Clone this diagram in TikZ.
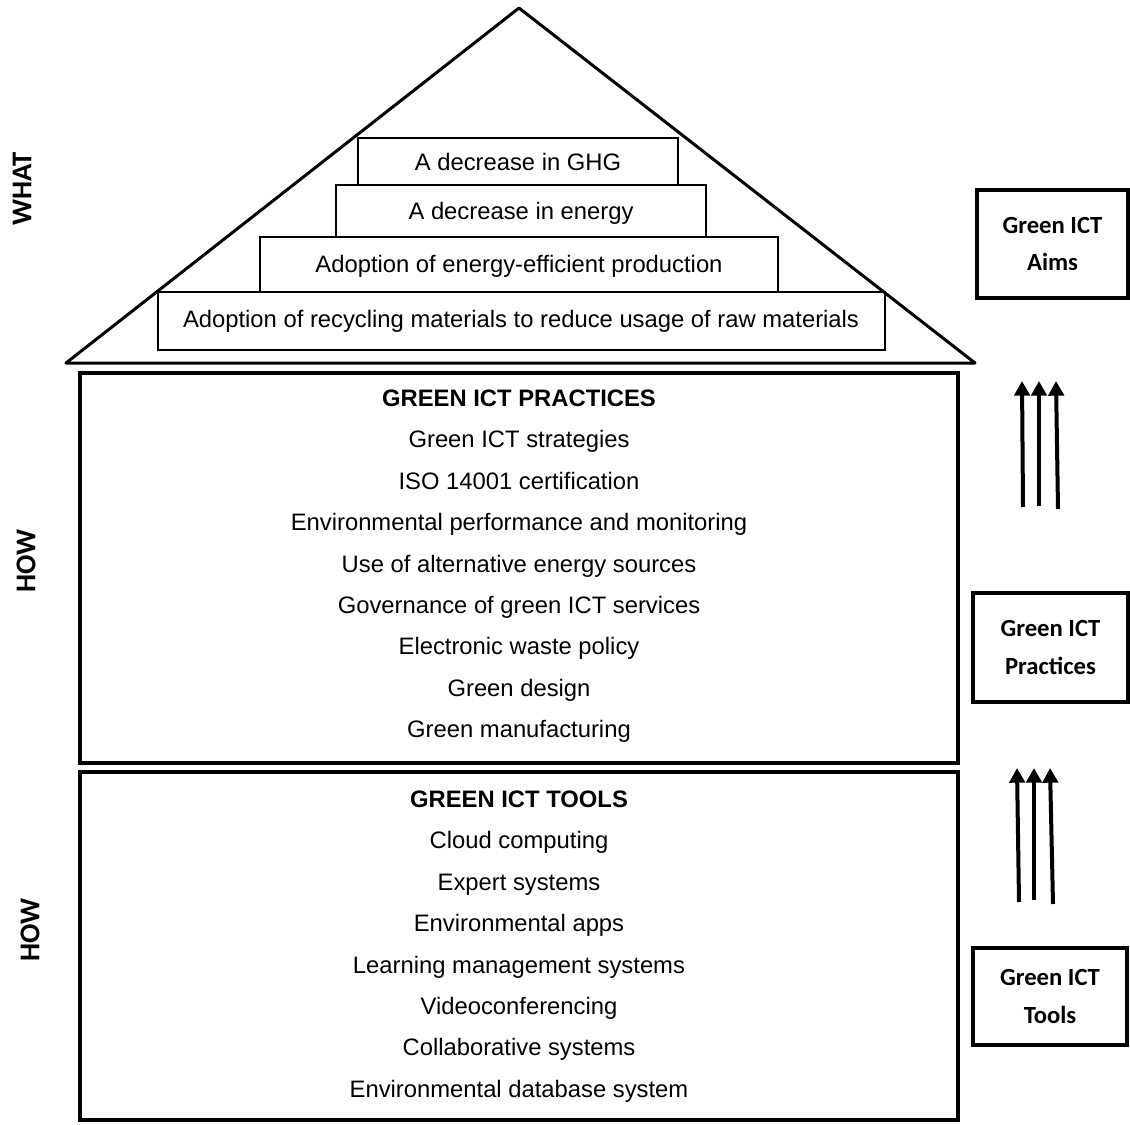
\documentclass[tikz,border=0pt]{standalone}
\usepackage{fontspec}
\setmainfont{Liberation Sans}
\newfontfamily\calibri{Carlito}
\usetikzlibrary{arrows.meta}

\tikzset{every picture/.style={line width=0.75pt}}
\tikzset{
	roof/.style={line width=2.25pt, line join=round},
	stepbox/.style={line width=1.5pt},
	bigbox/.style={line width=2.6pt},
	sidebox/.style={draw, line width=3pt, align=center, inner sep=0pt, font=\calibri\bfseries\fontsize{18.5}{28}\selectfont},
	item/.style={text height=0.75em, text depth=0.22em, yshift=-3pt, font=\fontsize{17.85}{20}\selectfont},
	headline/.style={item, font=\bfseries\fontsize{17.85}{20}\selectfont},
	sidelabel/.style={rotate=90, font=\calibri\bfseries\fontsize{21.5}{24}\selectfont},
	uparrow/.style={line width=3pt, -{Triangle[length=11pt,width=11.5pt]}},
}

\begin{document}
\begin{tikzpicture}[x=0.75pt,y=0.75pt,yscale=-1]
	\useasboundingbox (0,0) rectangle (1130,1124);

	%Shape: Triangle (roof)
	\draw [roof] (519,8) -- (975,363) -- (66,363) -- cycle ;

	%Shape: Rectangles (roof steps)
	\draw [stepbox] (358,138) rectangle (678,185) ;
	\draw [stepbox] (336,185) rectangle (706,237) ;
	\draw [stepbox] (260,237) rectangle (778,292) ;
	\draw [stepbox] (158,292) rectangle (885,350) ;
	% Text Node
	\node [item] (ghg) at (518,163) {A decrease in GHG};
	\node [item] (energy) at (521,212) {A decrease in energy};
	\node [item] (production) at (519,265) {Adoption of energy-efficient production};
	\node [item] (recycling) at (521,320) {Adoption of recycling materials to reduce usage of raw materials};

	%Shape: Rectangle (practices)
	\draw [bigbox] (80,373) rectangle (958,763) ;
	% Text Node
	\node [headline] (practices) at (519,399) {GREEN ICT PRACTICES};
	\foreach \txt [count=\i] in {Green ICT strategies, ISO 14001 certification, Environmental performance and monitoring, Use of alternative energy sources, Governance of green ICT services, Electronic waste policy, Green design, Green manufacturing}
		\node [item] (practice\i) at (519,399+41.4*\i) {\txt};

	%Shape: Rectangle (tools)
	\draw [bigbox] (80,772) rectangle (958,1120) ;
	% Text Node
	\node [headline] (tools) at (519,800) {GREEN ICT TOOLS};
	\foreach \txt [count=\i] in {Cloud computing, Expert systems, Environmental apps, Learning management systems, Videoconferencing, Collaborative systems, Environmental database system}
		\node [item] (tool\i) at (519,800+41.4*\i) {\txt};

	% Side labels
	\node [sidelabel] (what) at (22,189) {WHAT};
	\node [sidelabel] (howup) at (26,561) {HOW};
	\node [sidelabel] (howdown) at (30,930) {HOW};

	% Right boxes
	\node [sidebox, minimum width=113pt, minimum height=81pt] (aims) at (1052.5,244) {Green ICT\\Aims};
	\node [sidebox, minimum width=116pt, minimum height=82pt] (practicebox) at (1050.5,647.5) {Green ICT\\Practices};
	\node [sidebox, minimum width=115.5pt, minimum height=73pt] (toolbox) at (1050,996.5) {Green ICT\\Tools};

	%Straight Lines (arrows up)
	\coordinate (pa1) at (1023,507); \coordinate (pb1) at (1022,381);
	\coordinate (pa2) at (1039,506); \coordinate (pb2) at (1039,381);
	\coordinate (pa3) at (1058,509); \coordinate (pb3) at (1056,381);
	\coordinate (ta1) at (1019,902); \coordinate (tb1) at (1017,768);
	\coordinate (ta2) at (1034,900); \coordinate (tb2) at (1034,768);
	\coordinate (ta3) at (1053,904); \coordinate (tb3) at (1050,768);
	\foreach \i in {1,2,3} {
		\draw [uparrow] (pa\i) -- (pb\i) ;
		\draw [uparrow] (ta\i) -- (tb\i) ;
	}

\end{tikzpicture}
\end{document}
